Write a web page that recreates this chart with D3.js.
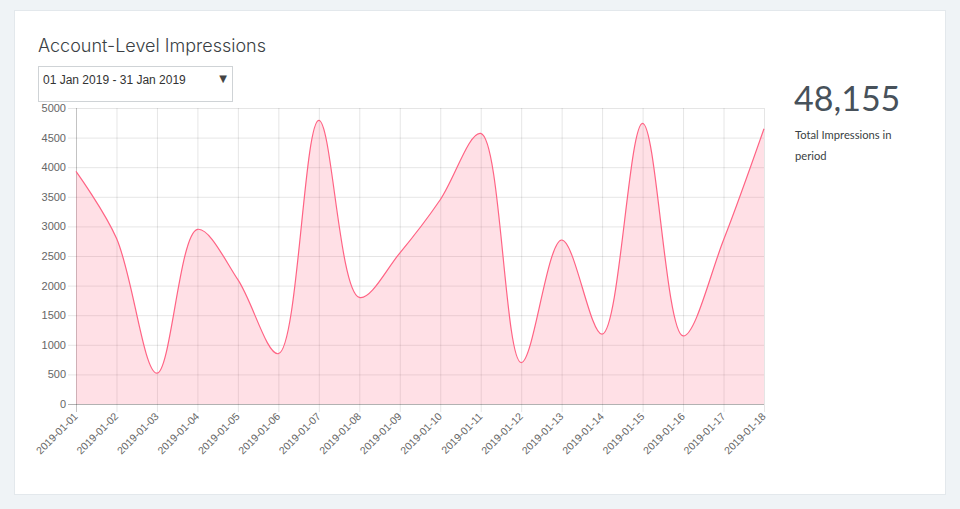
<!DOCTYPE html>
<html>
<head>
<meta charset="utf-8">
<script src="https://cdn.jsdelivr.net/npm/d3@7"></script>
<style>
  html, body { margin: 0; padding: 0; background: #eff3f6; }
  svg { display: block; }
</style>
</head>
<body>
<svg id="chart" width="960" height="509"></svg>
<script>
// data
const dates = ['2019-01-01', '2019-01-02', '2019-01-03', '2019-01-04', '2019-01-05', '2019-01-06',
    '2019-01-07', '2019-01-08', '2019-01-09', '2019-01-10', '2019-01-11', '2019-01-12',
    '2019-01-13', '2019-01-14', '2019-01-15', '2019-01-16', '2019-01-17', '2019-01-18'];
const impressions = [3930, 2800, 520, 2950, 2100, 850, 4790, 1800, 2550, 3450, 4570, 700,
    2770, 1180, 4740, 1150, 2770, 4650];
const yTicks = [0, 500, 1000, 1500, 2000, 2500, 3000, 3500, 4000, 4500, 5000];
const totalImpressions = 48155;
const title = 'Account-Level Impressions';
const periodLabel = '01 Jan 2019 - 31 Jan 2019';

const svg = d3.select('#chart');

// card
svg.append('rect')
    .attr('x', 14.5).attr('y', 10.5).attr('width', 931).attr('height', 484)
    .attr('fill', '#fff').attr('stroke', '#e3e8ec');

svg.append('text')
    .attr('x', 38).attr('y', 52)
    .attr('font-family', 'Inter, "Noto Sans", sans-serif')
    .attr('font-weight', 300)
    .attr('font-size', 18)
    .attr('fill', '#3a3f44')
    .text(title);

// date dropdown
svg.append('rect')
    .attr('x', 38.5).attr('y', 66.5).attr('width', 194).attr('height', 35)
    .attr('fill', '#fff').attr('stroke', '#cfd3d6');
svg.append('text')
    .attr('x', 43).attr('y', 84)
    .attr('font-family', '"Liberation Sans", Arial, sans-serif')
    .attr('font-size', 12)
    .attr('fill', '#333')
    .text(periodLabel);
svg.append('text')
    .attr('x', 223).attr('y', 82)
    .attr('text-anchor', 'middle')
    .attr('font-family', '"DejaVu Sans", sans-serif')
    .attr('font-size', 10)
    .attr('fill', '#444')
    .text('▼');

// chart area
const plotLeft = 76, plotRight = 764, plotTop = 108, plotBottom = 404;
const x = d3.scalePoint().domain(dates).range([plotLeft, plotRight]);
const y = d3.scaleLinear().domain([0, 5000]).range([plotBottom, plotTop]);

const yAxisG = svg.append('g').attr('transform', `translate(${plotLeft - 8},0)`)
    .call(d3.axisLeft(y).tickValues(yTicks).tickFormat(d3.format('d'))
        .tickSize(-(plotRight - plotLeft + 8)).tickPadding(2));
yAxisG.select('.domain').remove();
yAxisG.selectAll('line').attr('stroke', 'rgba(0,0,0,0.1)');
yAxisG.selectAll('text')
    .attr('font-family', '"Liberation Sans", Arial, sans-serif')
    .attr('font-size', 11).attr('fill', '#666');

const xAxisG = svg.append('g').attr('transform', `translate(0,${plotBottom + 8})`)
    .call(d3.axisBottom(x).tickSize(-(plotBottom - plotTop + 8)).tickPadding(0));
xAxisG.select('.domain').remove();
xAxisG.selectAll('line').attr('stroke', 'rgba(0,0,0,0.1)');
xAxisG.selectAll('text')
    .attr('font-family', '"Liberation Sans", Arial, sans-serif')
    .attr('font-size', 10.5).attr('fill', '#666')
    .attr('text-anchor', 'end')
    .attr('dy', null)
    .attr('transform', 'translate(2,5) rotate(-45)')
    .attr('y', 0).attr('x', 0);

// zero line + left axis line
svg.append('line')
    .attr('x1', plotLeft - 8).attr('x2', plotRight)
    .attr('y1', y(0) + 0.5).attr('y2', y(0) + 0.5)
    .attr('stroke', 'rgba(0,0,0,0.22)');
svg.append('line')
    .attr('x1', plotLeft + 0.5).attr('x2', plotLeft + 0.5)
    .attr('y1', plotTop).attr('y2', plotBottom + 8)
    .attr('stroke', 'rgba(0,0,0,0.15)');

const curve = d3.curveCatmullRom.alpha(0.5);
const area = d3.area()
    .x((d, i) => x(dates[i]))
    .y0(y(0))
    .y1(d => y(d))
    .curve(curve);
const line = d3.line()
    .x((d, i) => x(dates[i]))
    .y(d => y(d))
    .curve(curve);

svg.append('path')
    .datum(impressions)
    .attr('d', area)
    .attr('fill', 'rgba(255,99,132,0.2)');
svg.append('path')
    .datum(impressions)
    .attr('d', line)
    .attr('fill', 'none')
    .attr('stroke', 'rgb(255,99,132)')
    .attr('stroke-width', 1.2);

// total
svg.append('text')
    .attr('x', 794).attr('y', 111)
    .attr('font-family', 'Lato, sans-serif')
    .attr('font-weight', 400)
    .attr('font-size', 34)
    .attr('fill', '#47515a')
    .text(d3.format(',')(totalImpressions));
svg.append('text')
    .attr('x', 795).attr('y', 139)
    .attr('font-family', 'Lato, sans-serif')
    .attr('font-size', 11.2)
    .attr('fill', '#3a3f44')
    .text('Total Impressions in');
svg.append('text')
    .attr('x', 795).attr('y', 160)
    .attr('font-family', 'Lato, sans-serif')
    .attr('font-size', 11.2)
    .attr('fill', '#3a3f44')
    .text('period');
</script>
</body>
</html>
